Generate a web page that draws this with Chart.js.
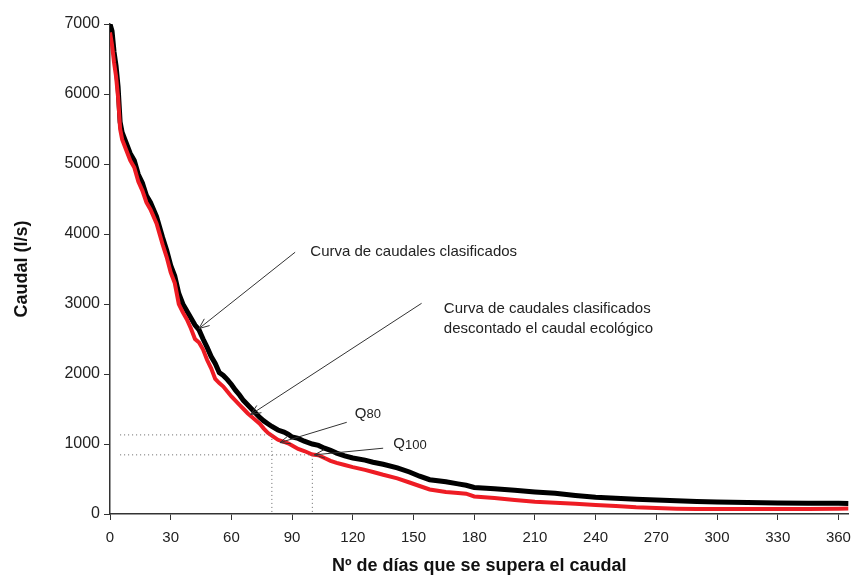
<!DOCTYPE html>
<html>
<head>
<meta charset="utf-8">
<script src="https://cdn.jsdelivr.net/npm/chart.js@4/dist/chart.umd.min.js"></script>
<style>
  body { margin: 0; background: #fff; }
  canvas { display: block; }
</style>
</head>
<body>
<canvas id="curva" width="860" height="577"></canvas>
<script>
// días en que se supera el caudal
const dias = [0, 1, 2, 3, 4, 5, 6, 8, 10, 12, 14, 16, 18, 20, 23, 26, 28, 30, 32, 34, 36, 38, 40, 42, 44, 46, 48, 50, 52, 54, 56, 58, 60, 62, 64, 66, 68, 70, 72, 74, 76, 78, 80, 83, 86, 88, 90, 93, 96, 100, 103, 106, 109, 112, 116, 120, 126, 130, 135, 142, 148, 153, 158, 166, 172, 176, 180, 190, 200, 210, 220, 230, 240, 250, 260, 270, 280, 290, 300, 315, 330, 345, 360, 365];

// curva de caudales clasificados (l/s)
const caudalClasificado = [7000, 6900, 6600, 6400, 6100, 5600, 5450, 5300, 5150, 5050, 4850, 4730, 4550, 4450, 4250, 3950, 3770, 3550, 3400, 3150, 3000, 2900, 2800, 2700, 2630, 2500, 2380, 2250, 2150, 2020, 1980, 1920, 1850, 1770, 1700, 1620, 1560, 1500, 1440, 1380, 1330, 1290, 1250, 1200, 1170, 1140, 1100, 1080, 1040, 1000, 980, 940, 910, 870, 830, 800, 770, 740, 710, 660, 600, 540, 490, 460, 430, 410, 380, 360, 340, 315, 295, 265, 240, 225, 210, 200, 190, 180, 172, 165, 158, 155, 155, 150];

// descontado el caudal ecológico (l/s)
const caudalDescontado = [6880, 6700, 6450, 6250, 5950, 5500, 5350, 5200, 5050, 4950, 4750, 4620, 4450, 4350, 4150, 3850, 3670, 3450, 3300, 3000, 2880, 2780, 2650, 2500, 2450, 2350, 2200, 2080, 1930, 1870, 1820, 1750, 1680, 1620, 1560, 1500, 1440, 1390, 1340, 1290, 1220, 1160, 1120, 1060, 1030, 1010, 980, 930, 900, 850, 840, 800, 760, 730, 700, 670, 630, 600, 560, 510, 450, 400, 350, 315, 300, 290, 250, 230, 200, 175, 160, 145, 130, 115, 95, 85, 75, 70, 70, 70, 70, 72, 75, 78, 78];

const ticksX = [0, 30, 60, 90, 120, 150, 180, 210, 240, 270, 300, 330, 360];
const ticksY = [0, 1000, 2000, 3000, 4000, 5000, 6000, 7000];

// Q80 y Q100 sobre la curva descontada
const q80 = { dia: 80, caudal: 1130 };
const q100 = { dia: 100, caudal: 845 };

// flechas: desde (dia, caudal) hasta la curva
const flechas = [
  { desde: [91.5, 3740], hasta: [44, 2650] },
  { desde: [154, 3010], hasta: [69.5, 1420] },
  { desde: [117, 1310], hasta: [84, 1020] },
  { desde: [135, 940], hasta: [101, 845] }
];

const textos = [
  { dia: 99, caudal: 3740, lineas: ['Curva de caudales clasificados'] },
  { dia: 165, caudal: 2930, lineas: ['Curva de caudales clasificados', 'descontado el caudal ecológico'] }
];
const etiquetasQ = [
  { dia: 121, caudal: 1430, base: 'Q', sub: '80' },
  { dia: 140, caudal: 1000, base: 'Q', sub: '100' }
];

const fuente = '"Liberation Sans", Arial, Helvetica, sans-serif';

const notas = {
  id: 'notas',
  afterDatasetsDraw(chart) {
    const { ctx, scales: { x, y } } = chart;
    ctx.save();

    // líneas punteadas de Q80 y Q100
    ctx.strokeStyle = '#666';
    ctx.lineWidth = 1;
    ctx.setLineDash([1, 3]);
    [q80, q100].forEach(q => {
      const px = x.getPixelForValue(q.dia);
      const py = y.getPixelForValue(q.caudal);
      ctx.beginPath();
      ctx.moveTo(x.getPixelForValue(5), py);
      ctx.lineTo(px, py);
      ctx.moveTo(px, py);
      ctx.lineTo(px, y.getPixelForValue(0));
      ctx.stroke();
    });
    ctx.setLineDash([]);

    // flechas
    ctx.strokeStyle = '#333';
    ctx.lineWidth = 1;
    flechas.forEach(f => {
      const x1 = x.getPixelForValue(f.desde[0]), y1 = y.getPixelForValue(f.desde[1]);
      const x2 = x.getPixelForValue(f.hasta[0]), y2 = y.getPixelForValue(f.hasta[1]);
      const a = Math.atan2(y2 - y1, x2 - x1);
      ctx.beginPath();
      ctx.moveTo(x1, y1);
      ctx.lineTo(x2, y2);
      ctx.moveTo(x2 - 11 * Math.cos(a - 0.4), y2 - 11 * Math.sin(a - 0.4));
      ctx.lineTo(x2, y2);
      ctx.lineTo(x2 - 11 * Math.cos(a + 0.4), y2 - 11 * Math.sin(a + 0.4));
      ctx.stroke();
    });

    // textos
    ctx.fillStyle = '#222';
    ctx.textBaseline = 'middle';
    ctx.textAlign = 'left';
    ctx.font = '15px ' + fuente;
    textos.forEach(t => {
      const px = x.getPixelForValue(t.dia);
      const py = y.getPixelForValue(t.caudal);
      t.lineas.forEach((l, i) => ctx.fillText(l, px, py + i * 20));
    });

    etiquetasQ.forEach(q => {
      const px = x.getPixelForValue(q.dia);
      const py = y.getPixelForValue(q.caudal);
      ctx.font = '15px ' + fuente;
      ctx.fillText(q.base, px, py);
      const w = ctx.measureText(q.base).width;
      ctx.font = '13px ' + fuente;
      ctx.fillText(q.sub, px + w, py + 1);
    });

    ctx.restore();
  }
};

new Chart(document.getElementById('curva'), {
  type: 'line',
  data: {
    datasets: [
      {
        label: 'Curva de caudales clasificados descontado el caudal ecológico',
        data: dias.map((d, i) => ({ x: d, y: caudalDescontado[i] })),
        borderColor: '#ee1c24',
        borderWidth: 4,
        pointRadius: 0,
        tension: 0,
        order: 0
      },
      {
        label: 'Curva de caudales clasificados',
        data: dias.map((d, i) => ({ x: d, y: caudalClasificado[i] })),
        borderColor: '#000',
        borderWidth: 5,
        pointRadius: 0,
        tension: 0,
        order: 1
      }
    ]
  },
  options: {
    responsive: false,
    animation: false,
    layout: { padding: { top: 24, right: 4, left: 0, bottom: 0 } },
    plugins: {
      legend: { display: false },
      tooltip: { enabled: false }
    },
    scales: {
      x: {
        type: 'linear',
        min: 0,
        max: 365,
        afterBuildTicks: s => { s.ticks = ticksX.map(v => ({ value: v })); },
        afterFit: s => { s.height = 63; },
        grid: { drawOnChartArea: false, tickLength: 6, color: '#333' },
        border: { color: '#333', width: 1.5 },
        ticks: {
          padding: 9,
          maxRotation: 0,
          color: '#222',
          callback: v => String(v),
          font: { family: fuente, size: 15 }
        },
        title: {
          display: true,
          text: 'Nº de días que se supera el caudal',
          color: '#111',
          padding: { top: 0, bottom: 0 },
          font: { family: fuente, size: 18, weight: 'bold' }
        }
      },
      y: {
        min: 0,
        max: 7000,
        afterBuildTicks: s => { s.ticks = ticksY.map(v => ({ value: v })); },
        afterFit: s => { s.width = 110; },
        grid: { drawOnChartArea: false, tickLength: 6, color: '#333' },
        border: { color: '#333', width: 1.5 },
        ticks: {
          padding: 4,
          color: '#222',
          callback: v => String(v),
          font: { family: fuente, size: 16 }
        },
        title: {
          display: true,
          text: 'Caudal (l/s)',
          color: '#111',
          padding: { top: 11, bottom: 0 },
          font: { family: fuente, size: 18, weight: 'bold' }
        }
      }
    }
  },
  plugins: [notas]
});
</script>
</body>
</html>
